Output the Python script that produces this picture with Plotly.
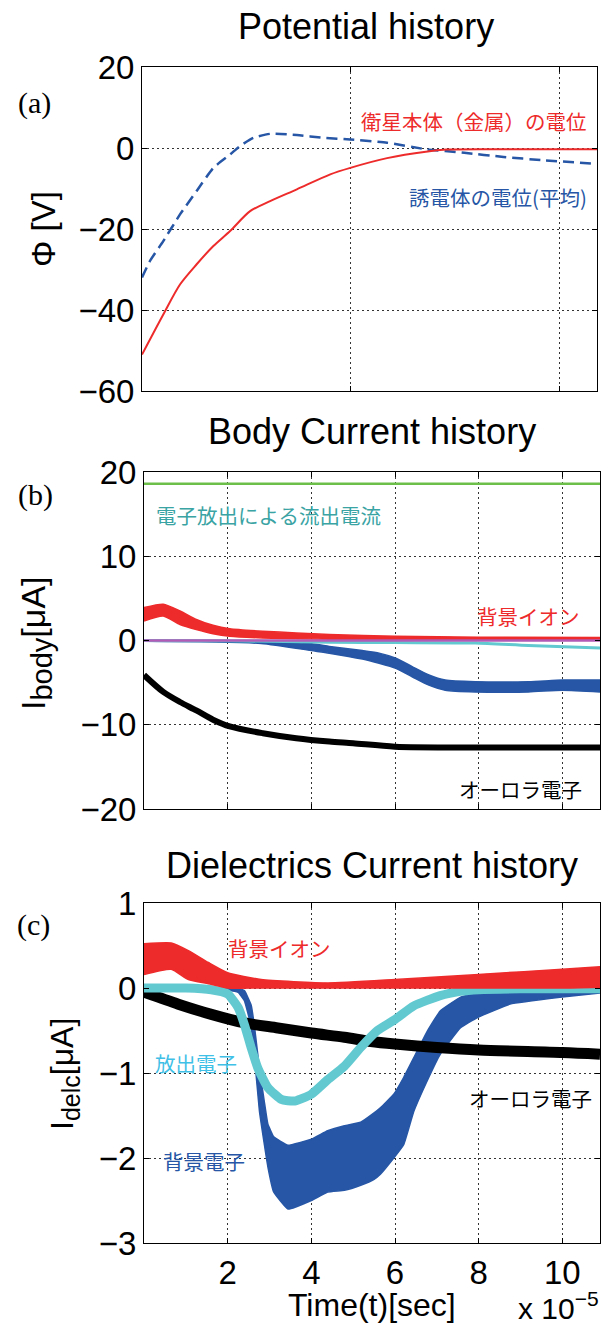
import plotly.graph_objects as go

W, H = 603, 1325

# ---------------- data (time in units of 1e-5 s) ----------------
# (a) Potential history [V]
metal_t = [0.0, 0.51, 0.91, 1.31, 1.71, 2.11, 2.59, 3.07, 3.71, 4.51, 4.99, 5.87, 6.8, 7.3, 8.5, 10.9]
metal_v = [-51.0, -41.1, -33.7, -28.7, -24.2, -20.5, -15.6, -13.1, -10.2, -6.5, -4.9, -2.5, -0.9, -0.4, -0.3, -0.3]
diel_t = [0.0, 0.19, 0.51, 0.91, 1.31, 1.71, 2.11, 2.35, 2.67, 3.07, 3.71, 4.35, 4.99, 5.87, 6.8, 7.72, 8.66, 9.58, 10.9]
diel_v = [-32.0, -27.9, -23.0, -16.4, -10.6, -4.9, -1.6, 0.5, 2.5, 3.5, 3.2, 2.5, 2.1, 1.3, -0.3, -1.2, -2.2, -3.0, -3.9]

# (b) Body current history [uA]
emit_t = [0.0, 10.9]
emit_v = [18.6, 18.6]
zero_t = [0.0, 10.9]
zero_v = [0.0, 0.0]
ionb_t = [0.0, 0.46, 0.86, 1.25, 1.65, 2.05, 2.84, 3.64, 4.43, 6.0, 8.0, 10.9]
ionb_hi = [3.9, 4.3, 3.5, 2.5, 1.8, 1.4, 1.1, 0.9, 0.7, 0.5, 0.4, 0.35]
ionb_lo = [2.3, 2.9, 1.9, 1.3, 0.8, 0.5, 0.3, 0.2, 0.15, 0.1, 0.05, 0.05]
secb_t = [0.0, 1.9, 3.0, 4.43, 6.0, 7.92, 9.19, 10.9]
secb_v = [0.0, -0.02, -0.1, -0.2, -0.25, -0.3, -0.6, -0.9]
bgeb_t = [0.0, 2.8, 4.0, 4.43, 5.22, 5.62, 6.02, 6.41, 6.81, 7.2, 7.92, 9.19, 10.0, 10.9]
bgeb_hi = [0.0, -0.05, -0.4, -0.7, -1.2, -1.5, -2.1, -3.1, -4.1, -4.7, -4.9, -4.9, -4.7, -4.7]
bgeb_lo = [-0.1, -0.35, -1.2, -1.5, -2.2, -2.7, -3.3, -4.3, -5.3, -5.9, -6.1, -6.1, -5.9, -6.1]
aurb_t = [0.0, 0.46, 0.86, 1.25, 1.65, 2.05, 2.84, 3.64, 4.43, 5.0, 6.0, 8.0, 10.9]
aurb_v = [-4.1, -6.1, -7.3, -8.3, -9.4, -10.2, -11.0, -11.6, -12.0, -12.2, -12.6, -12.7, -12.7]

# (c) Dielectrics current history [uA]
ionc_t = [0.0, 0.65, 1.06, 1.54, 2.0, 2.8, 4.4, 6.0, 8.0, 10.0, 10.9]
ionc_hi = [0.52, 0.53, 0.44, 0.30, 0.18, 0.10, 0.06, 0.10, 0.16, 0.22, 0.25]
ionc_lo = [0.16, 0.22, 0.10, 0.05, 0.0, 0.0, 0.0, 0.0, 0.0, 0.0, 0.01]
secc_t = [0.0, 1.0, 1.61, 2.0, 2.25, 2.4, 2.56, 2.72, 2.96, 3.28, 3.6, 4.0, 4.39, 4.79, 5.18, 5.58, 6.0, 6.45, 7.08, 7.56, 8.0, 9.0, 10.9]
secc_v = [0.0, 0.0, -0.02, -0.07, -0.23, -0.43, -0.70, -0.94, -1.17, -1.31, -1.33, -1.25, -1.08, -0.92, -0.70, -0.50, -0.37, -0.21, -0.09, -0.04, -0.02, -0.01, -0.01]
bgec_t = [0.0, 2.0, 2.25, 2.4, 2.56, 2.64, 2.76, 2.88, 2.96, 3.1, 3.44, 4.0, 4.39, 4.79, 5.18, 5.5, 5.65, 5.97, 6.21, 6.45, 6.77, 7.08, 7.56, 7.96, 8.75, 9.94, 10.9]
bgec_hi = [0.0, 0.0, 0.0, -0.03, -0.2, -0.45, -0.95, -1.35, -1.6, -1.75, -1.85, -1.78, -1.68, -1.62, -1.58, -1.47, -1.41, -1.25, -1.05, -0.82, -0.51, -0.27, -0.11, -0.06, -0.02, 0.0, 0.0]
bgec_lo = [-0.02, -0.03, -0.05, -0.15, -0.45, -0.8, -1.45, -1.85, -2.1, -2.4, -2.6, -2.5, -2.4, -2.38, -2.32, -2.25, -2.19, -2.0, -1.84, -1.45, -1.09, -0.78, -0.47, -0.35, -0.19, -0.11, -0.06]
aurc_t = [0.0, 0.82, 1.61, 2.4, 3.2, 4.0, 4.79, 5.42, 6.0, 7.0, 8.0, 10.0, 10.9]
aurc_v = [-0.05, -0.19, -0.31, -0.41, -0.47, -0.53, -0.58, -0.63, -0.66, -0.70, -0.73, -0.76, -0.78]

# ---------------- styles ----------------
RED = '#ee2b2b'
BLUE = '#2656a5'
CYAN = '#63c9d1'
GREEN = '#6cc04a'
PURPLE = '#b25ab5'
TEAL = '#3aa3a3'
SKY = '#3fc0e6'
SANS = 'Liberation Sans, Arial, sans-serif'
SERIF = 'Liberation Serif, Times New Roman, serif'
JP = 'Noto Sans CJK JP'

fig = go.Figure()


def line(t, v, color, width, xa, ya, dash=None, smooth=0.6):
    fig.add_trace(go.Scatter(x=t, y=v, mode='lines', xaxis=xa, yaxis=ya,
                             line=dict(color=color, width=width, dash=dash,
                                       shape='spline', smoothing=smooth),
                             showlegend=False, hoverinfo='skip'))


def band(t, hi, lo, color, xa, ya, smooth=0.4):
    fig.add_trace(go.Scatter(x=t, y=hi, mode='lines', xaxis=xa, yaxis=ya,
                             line=dict(color=color, width=1.5, shape='spline', smoothing=smooth),
                             showlegend=False, hoverinfo='skip'))
    fig.add_trace(go.Scatter(x=t, y=lo, mode='lines', xaxis=xa, yaxis=ya,
                             line=dict(color=color, width=1.5, shape='spline', smoothing=smooth),
                             fill='tonexty', fillcolor=color,
                             showlegend=False, hoverinfo='skip'))


# (a)
line(diel_t, diel_v, BLUE, 2.5, 'x', 'y', dash='11px,6px', smooth=0.5)
line(metal_t, metal_v, RED, 2, 'x', 'y', smooth=0.8)
# (b)
line(aurb_t, aurb_v, 'black', 6, 'x2', 'y2', smooth=0.8)
band(bgeb_t, bgeb_hi, bgeb_lo, BLUE, 'x2', 'y2', smooth=0.6)
line(secb_t, secb_v, CYAN, 3, 'x2', 'y2')
band(ionb_t, ionb_hi, ionb_lo, RED, 'x2', 'y2', smooth=0.6)
line(zero_t, zero_v, PURPLE, 2.5, 'x2', 'y2')
line(emit_t, emit_v, GREEN, 2.5, 'x2', 'y2')
# (c)
band(bgec_t, bgec_hi, bgec_lo, BLUE, 'x3', 'y3', smooth=0.3)
line(aurc_t, aurc_v, 'black', 11, 'x3', 'y3', smooth=0.8)
line(secc_t, secc_v, CYAN, 9, 'x3', 'y3', smooth=0.5)
band(ionc_t, ionc_hi, ionc_lo, RED, 'x3', 'y3', smooth=0.5)


def fx(px):
    return px / W


def fy(py):
    return 1 - py / H


common = dict(showline=True, linecolor='black', linewidth=1, mirror='allticks',
              ticks='inside', ticklen=5, tickcolor='black', showgrid=True,
              gridcolor='#333333', griddash='2px,3px', gridwidth=1, zeroline=False,
              automargin=False,
              tickfont=dict(family=SANS, size=33, color='black'))

fig.update_layout(
    width=W, height=H, margin=dict(l=0, r=0, t=0, b=0, pad=0, autoexpand=False),
    paper_bgcolor='white', plot_bgcolor='white', showlegend=False,
    xaxis=dict(common, domain=[fx(142), fx(597)], range=[0, 10.9], tickvals=[5, 10],
               showticklabels=False, anchor='y'),
    yaxis=dict(common, domain=[fy(391), fy(67)], range=[-60, 20],
               tickvals=[-60, -40, -20, 0, 20], anchor='x'),
    xaxis2=dict(common, domain=[fx(144), fx(600)], range=[0, 10.9], tickvals=[2, 4, 6, 8, 10],
                showticklabels=False, anchor='y2'),
    yaxis2=dict(common, domain=[fy(809), fy(472)], range=[-20, 20],
                tickvals=[-20, -10, 0, 10, 20], anchor='x2'),
    xaxis3=dict(common, domain=[fx(144), fx(600)], range=[0, 10.9], tickvals=[2, 4, 6, 8, 10],
                anchor='y3'),
    yaxis3=dict(common, domain=[fy(1243), fy(903)], range=[-3, 1],
                tickvals=[-3, -2, -1, 0, 1], anchor='x3'),
)

ann = []


def paper_text(text, x, y, size, family=SANS, angle=0, xanchor='center', yanchor='middle', color='black'):
    ann.append(dict(text=text, x=fx(x), y=fy(y), xref='paper', yref='paper', showarrow=False,
                    xanchor=xanchor, yanchor=yanchor, textangle=angle,
                    font=dict(family=family, size=size, color=color)))


def data_text(text, x, y, xa, ya, color, xanchor='center', size=20.5):
    ann.append(dict(text=text, x=x, y=y, xref=xa, yref=ya, showarrow=False,
                    xanchor=xanchor, yanchor='middle',
                    font=dict(family=JP, size=size, color=color)))


# titles
paper_text('Potential history', 366, 27, 36)
paper_text('Body Current history', 372, 431, 36)
paper_text('Dielectrics Current history', 372, 865, 36)
# panel letters
paper_text('(a)', 34, 103, 30, family=SERIF)
paper_text('(b)', 35, 495, 30, family=SERIF)
paper_text('(c)', 33, 925, 30, family=SERIF)
# y labels
paper_text('Φ [V]', 44, 229, 33, angle=-90)
paper_text('I<sub><span style="font-size:29px">body</span></sub>[μA]', 36, 643, 34, angle=-90)
paper_text('I<sub><span style="font-size:25px">delc</span></sub>[μA]', 64, 1074, 32, angle=-90)
# x label & exponent
paper_text('Time(t)[sec]', 372, 1305, 32)
paper_text('x 10<sup>−5</sup>', 601, 1327, 30, xanchor='right', yanchor='bottom')

# series labels
data_text('衛星本体（金属）の電位', 10.7, 6.7, 'x', 'y', RED, xanchor='right')
data_text('誘電体の電位(平均)', 10.7, -12.1, 'x', 'y', BLUE, xanchor='right')
data_text('電子放出による流出電流', 0.24, 14.9, 'x2', 'y2', TEAL, xanchor='left')
data_text('背景イオン', 9.19, 2.85, 'x2', 'y2', RED)
data_text('オーロラ電子', 9.0, -17.6, 'x2', 'y2', 'black')
data_text('背景イオン', 3.23, 0.47, 'x3', 'y3', RED)
data_text('放出電子', 1.25, -0.88, 'x3', 'y3', SKY)
data_text('オーロラ電子', 9.24, -1.29, 'x3', 'y3', 'black')
data_text('背景電子', 1.44, -2.04, 'x3', 'y3', BLUE)

fig.update_layout(annotations=ann)

fig.write_html('out.html', config={'displayModeBar': False})
